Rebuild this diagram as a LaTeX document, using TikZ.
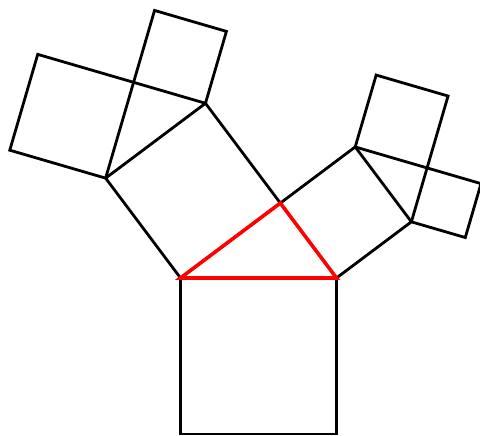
\documentclass[tikz,border=0pt]{standalone}
\usetikzlibrary{calc}
\begin{document}
\begin{tikzpicture}[x=1pt,y=1pt,
  edge/.style={draw=black,line width=2.8pt},
  redtri/.style={draw=red,line width=3.6pt}]
\useasboundingbox (0,0) rectangle (480,436);
% base
\coordinate (A) at (180.5,158);
\coordinate (E) at (336.5,158);
\coordinate (A0) at ($(A)!1!-90:(E)$);
\coordinate (E0) at ($(E)!1!90:(A)$);
\coordinate (B) at ($(A)!0.8!36.87:(E)$);
% level 1 squares
\coordinate (D) at ($(A)!1!90:(B)$);
\coordinate (C) at ($(B)!1!-90:(A)$);
\coordinate (Bp) at ($(B)!1!90:(E)$);
\coordinate (Ep) at ($(E)!1!-90:(B)$);
% level 2 left
\coordinate (P) at ($(D)!0.8!36.87:(C)$);
\coordinate (D2) at ($(D)!1!90:(P)$);
\coordinate (P2) at ($(P)!1!-90:(D)$);
\coordinate (P3) at ($(P)!1!90:(C)$);
\coordinate (C3) at ($(C)!1!-90:(P)$);
% level 2 right
\coordinate (Q) at ($(Bp)!0.8!36.87:(Ep)$);
\coordinate (B2) at ($(Bp)!1!90:(Q)$);
\coordinate (Q2) at ($(Q)!1!-90:(Bp)$);
\coordinate (Q3) at ($(Q)!1!90:(Ep)$);
\coordinate (E3) at ($(Ep)!1!-90:(Q)$);
% squares
\draw[edge] (A) -- (A0) -- (E0) -- (E);
\draw[edge] (A) -- (D) -- (C) -- (B);
\draw[edge] (B) -- (Bp) -- (Ep) -- (E);
\draw[edge] (D) -- (P) -- (C);
\draw[edge] (D) -- (D2) -- (P2) -- (P);
\draw[edge] (P) -- (P3) -- (C3) -- (C);
\draw[edge] (Bp) -- (Q) -- (Ep);
\draw[edge] (Bp) -- (B2) -- (Q2) -- (Q);
\draw[edge] (Q) -- (Q3) -- (E3) -- (Ep);
% red triangle
\draw[redtri] (A) -- (B) -- (E) -- cycle;
\end{tikzpicture}
\end{document}
